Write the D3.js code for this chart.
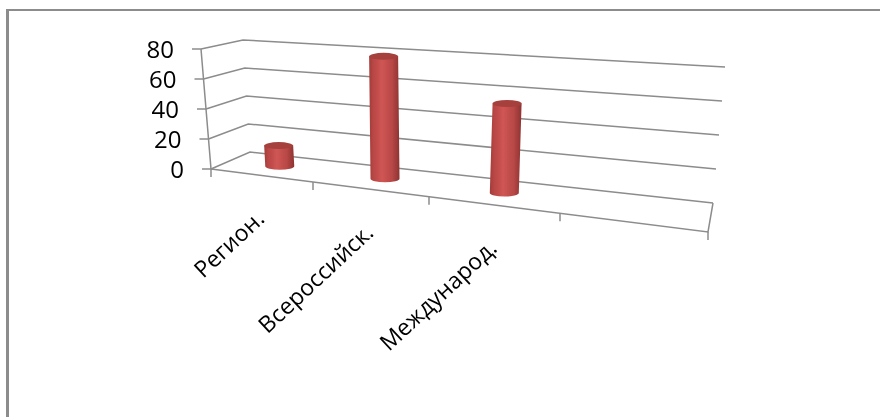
<!DOCTYPE html>
<html>
<head>
<meta charset="utf-8">
<script src="https://cdn.jsdelivr.net/npm/d3@7"></script>
<style>
  html, body { margin: 0; padding: 0; background: #fff; }
  svg { display: block; }
  text { font-family: "Open Sans", Lato, sans-serif; fill: #000; }
</style>
</head>
<body>
<svg id="chart" width="880" height="417"></svg>
<script>
const categories = ["Регион.", "Всероссийск.", "Международ."];
const values = [14, 79, 55];
const valueTicks = [0, 20, 40, 60, 80];
const slots = [0, 1, 2, 3, 4];

const svg = d3.select("#chart");
const W = 880, H = 417;

// ---------- box corners as seen in the picture (front/back, left/right) ----------
const floorBox = { fl: [211, 169], fr: [708, 232], bl: [250, 152], br: [713, 203] };
const roofBox = { fl: [201, 49], fr: [723, 86], bl: [243, 40], br: [725, 67] };

// slots get wider to the right, the chart is drawn in perspective
const slotX = d3.scaleLinear().domain(slots).range([211, 313, 429, 560, 708]);
const across = (slot) => (slotX(slot) - floorBox.fl[0]) / (floorBox.fr[0] - floorBox.fl[0]);
const value = d3.scaleLinear().domain([0, 80]).range([0, 1]);

const mix = (a, b, t) => [d3.interpolateNumber(a[0], b[0])(t), d3.interpolateNumber(a[1], b[1])(t)];
const onBox = (box, u, d) => mix(mix(box.fl, box.fr, u), mix(box.bl, box.br, u), d);
// slot along the front edge, d depth 0..1, v chart value
const project = (slot, d, v) => mix(onBox(floorBox, across(slot), d), onBox(roofBox, across(slot), d), value(v));

const defs = svg.append("defs");
const soft = (id, dev) => defs.append("filter").attr("id", id)
  .attr("filterUnits", "userSpaceOnUse").attr("x", 0).attr("y", 0).attr("width", W).attr("height", H)
  .append("feGaussianBlur").attr("stdDeviation", dev);
soft("soft", 0.5);
soft("softText", 0.25);
const bodyFill = defs.append("linearGradient").attr("id", "body");
[[0, "#a33c3a"], [0.12, "#b64543"], [0.42, "#cf5654"], [0.75, "#b84846"], [1, "#8e3331"]].forEach(([o, c]) => {
  bodyFill.append("stop").attr("offset", o).attr("stop-color", c);
});

// ---------- outer frame ----------
svg.append("line").attr("x1", 7.5).attr("x2", 7.5).attr("y1", 9).attr("y2", H).attr("stroke", "#8c8c8c").attr("stroke-width", 3);
svg.append("line").attr("x1", 6).attr("x2", W).attr("y1", 10).attr("y2", 10).attr("stroke", "#8c8c8c").attr("stroke-width", 2);

const plot = svg.append("g").attr("filter", "url(#soft)");
const grey = "#8c8c8c";
const seg = (pts) => plot.append("path").attr("d", d3.line()(pts)).attr("fill", "none").attr("stroke", grey).attr("stroke-width", 1.5);

// ---------- grid on the back wall and side wall ----------
valueTicks.forEach((v) => {
  seg([project(0, 0, v), project(0, 1, v), project(4, 1, v)]);
  const p = project(0, 0, v);
  seg([[p[0] - 9, p[1]], p]);
});
seg([project(0, 0, 0), project(0, 0, 80)]);

// ---------- floor front edge ----------
seg([project(0, 0, 0), project(4, 0, 0), project(4, 1, 0)]);
slots.forEach((s) => {
  const p = project(s, 0, 0);
  seg([p, [p[0], p[1] + 8]]);
});

// ---------- cylinders ----------
const barW = 29, capH = 3.5;
plot.selectAll("g.bar").data(values).join("g").attr("class", "bar").each(function (v, i) {
  const g = d3.select(this);
  const b = project(i + 0.5, 0.5, 0);
  const t = project(i + 0.5, 0.5, v);
  const r = barW / 2;
  g.append("path")
    .attr("d", `M${t[0] - r},${t[1]} L${b[0] - r},${b[1]} A${r},${capH} 0 0 0 ${b[0] + r},${b[1]} L${t[0] + r},${t[1]} Z`)
    .attr("fill", "url(#body)");
  g.append("ellipse").attr("cx", t[0]).attr("cy", t[1]).attr("rx", r).attr("ry", capH).attr("fill", "#a63f3d");
});

// ---------- labels ----------
const labels = svg.append("g").attr("filter", "url(#softText)");
labels.selectAll("text.val").data(valueTicks).join("text").attr("class", "val")
  .attr("x", (v) => project(0, 0, v)[0] - 27)
  .attr("y", (v) => project(0, 0, v)[1] + 3)
  .attr("text-anchor", "end").attr("dominant-baseline", "middle")
  .attr("font-size", 24)
  .text((v) => v);

labels.selectAll("text.cat").data(categories).join("text").attr("class", "cat")
  .attr("transform", (c, i) => {
    const p = project(i + 0.5, 0, 0);
    return `translate(${p[0] + 4},${p[1] + 45}) rotate(-43)`;
  })
  .attr("text-anchor", "end")
  .attr("font-size", 23)
  .text((c) => c);
</script>
</body>
</html>
